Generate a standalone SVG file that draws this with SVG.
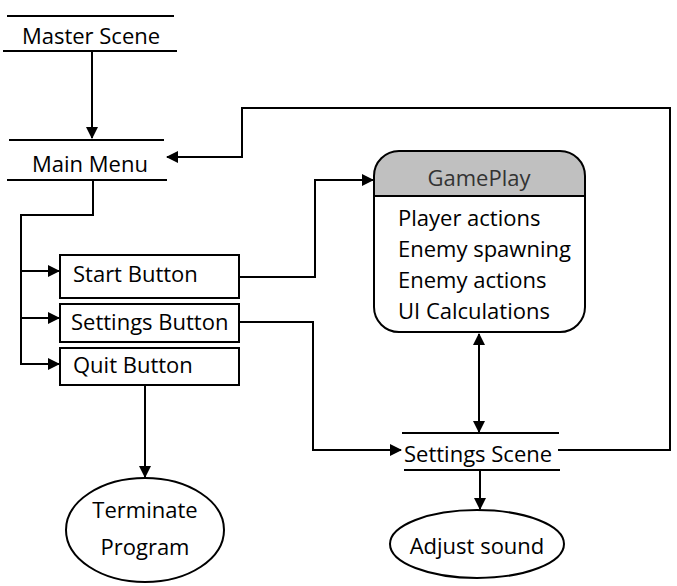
<svg xmlns="http://www.w3.org/2000/svg" width="677" height="586" viewBox="0 0 677 586">
<defs>
<marker id="ah" markerWidth="12" markerHeight="12" refX="11" refY="6" orient="auto" markerUnits="userSpaceOnUse">
<path d="M0,0 L12,6 L0,12 Z" fill="#000"/>
</marker>
<marker id="ahs" markerWidth="12" markerHeight="12" refX="11" refY="6" orient="auto-start-reverse" markerUnits="userSpaceOnUse">
<path d="M0,0 L12,6 L0,12 Z" fill="#000"/>
</marker>
</defs>
<style>
text{font-family:"Open Sans","Liberation Sans",sans-serif;font-size:22px;fill:#000}
.ln{stroke:#000;stroke-width:2;fill:none}
.bx{stroke:#000;stroke-width:2;fill:#fff}
.c{text-anchor:middle}
</style>
<rect width="677" height="586" fill="#fff"/>
<g id="connectors">
<path class="ln" d="M92,51 V138" marker-end="url(#ah)"/>
<path class="ln" d="M558,450 H670 V108 H242 V157 H167" marker-end="url(#ah)"/>
<path class="ln" d="M93,180 V215 H21 V365"/>
<path class="ln" d="M21,271 H59" marker-end="url(#ah)"/>
<path class="ln" d="M21,318 H59" marker-end="url(#ah)"/>
<path class="ln" d="M21,364 H59" marker-end="url(#ah)"/>
<path class="ln" d="M239,277 H315 V180 H373" marker-end="url(#ah)"/>
<path class="ln" d="M239,322 H313 V450 H401" marker-end="url(#ah)"/>
<path class="ln" d="M479,334 V432" marker-start="url(#ahs)" marker-end="url(#ahs)"/>
<path class="ln" d="M480,470 V509" marker-end="url(#ah)"/>
<path class="ln" d="M145,385 V477" marker-end="url(#ah)"/>
</g>
<g id="master-scene">
<line class="ln" x1="7" y1="16" x2="174" y2="16"/>
<line class="ln" x1="3" y1="51" x2="177" y2="51"/>
<text class="c" x="91" y="44">Master Scene</text>
</g>
<g id="main-menu">
<line class="ln" x1="9" y1="140" x2="164" y2="140"/>
<line class="ln" x1="7" y1="180" x2="167" y2="180"/>
<text class="c" x="90" y="172">Main Menu</text>
</g>
<g id="start-button">
<rect class="bx" x="60" y="255" width="179" height="43"/>
<text x="73" y="282">Start Button</text>
</g>
<g id="settings-button">
<rect class="bx" x="60" y="304" width="179" height="38"/>
<text x="71" y="330">Settings Button</text>
</g>
<g id="quit-button">
<rect class="bx" x="60" y="348" width="179" height="37"/>
<text x="73" y="373">Quit Button</text>
</g>
<g id="gameplay">
<rect x="374" y="151" width="211" height="181" rx="25" ry="25" fill="#fff" stroke="none"/>
<path d="M374,196 V176 A25,25 0 0 1 399,151 H560 A25,25 0 0 1 585,176 V196 Z" fill="#c0c0c0"/>
<rect x="374" y="151" width="211" height="181" rx="25" ry="25" fill="none" stroke="#000" stroke-width="2"/>
<line class="ln" x1="374" y1="196" x2="585" y2="196"/>
<text class="c" x="479" y="186" style="fill:#333">GamePlay</text>
<text x="398" y="226">Player actions</text>
<text x="398" y="257">Enemy spawning</text>
<text x="398" y="288">Enemy actions</text>
<text x="398" y="319">UI Calculations</text>
</g>
<g id="settings-scene">
<line class="ln" x1="402" y1="433" x2="559" y2="433"/>
<line class="ln" x1="404" y1="470" x2="560" y2="470"/>
<text x="404" y="462">Settings Scene</text>
</g>
<g id="terminate-program">
<ellipse class="bx" cx="145" cy="530" rx="79" ry="52"/>
<text class="c" x="145" y="518">Terminate</text>
<text class="c" x="145" y="555">Program</text>
</g>
<g id="adjust-sound">
<ellipse class="bx" cx="477" cy="544" rx="87" ry="34"/>
<text class="c" x="477" y="554">Adjust sound</text>
</g>
</svg>
